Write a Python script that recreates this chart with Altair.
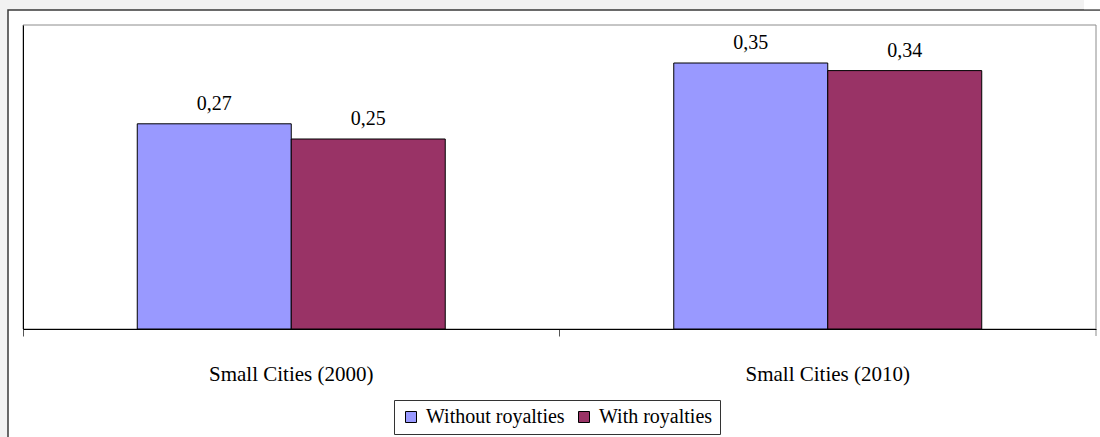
import altair as alt
import pandas as pd

# Category groups, series and values
categories = ["Small Cities (2000)", "Small Cities (2010)"]
series = ["Without royalties", "With royalties"]
without_royalties = [0.27, 0.35]
with_royalties = [0.25, 0.34]
colors = ["#9999FF", "#993366"]

rows = []
for i, cat in enumerate(categories):
    for name, vals in zip(series, [without_royalties, with_royalties]):
        v = vals[i]
        rows.append({"cat": cat, "series": name, "value": v,
                     "label": f"{v:.2f}".replace(".", ",")})
df = pd.DataFrame(rows)

W, H = 1073, 304
SERIF = "Liberation Serif"

one = pd.DataFrame({"k": [0]})

# White sheet with dark border behind the chart
sheet = alt.Chart(one).mark_rect(fill="white", stroke="#3a3a3a", strokeWidth=1.5).encode(
    x=alt.value(-15), x2=alt.value(1110), y=alt.value(-15), y2=alt.value(450)
)
# small white patch at the top-right corner above the sheet
patch = alt.Chart(one).mark_rect(fill="white").encode(
    x=alt.value(1061), x2=alt.value(1090), y=alt.value(-30), y2=alt.value(-15.8)
)
# plot-area frame
frame = alt.Chart(one).mark_rect(fill="transparent", stroke="#8c8c8c", strokeWidth=1).encode(
    x=alt.value(0), x2=alt.value(W), y=alt.value(0), y2=alt.value(H)
)
# closing tick at the right end of the category axis
end_tick = alt.Chart(one).mark_rule(color="#8c8c8c", strokeWidth=1).encode(
    x=alt.value(W), y=alt.value(H), y2=alt.value(H + 7)
)

xenc = alt.X("cat:N", sort=categories, title=None,
             scale=alt.Scale(paddingInner=0, paddingOuter=0),
             axis=alt.Axis(labelAngle=0, bandPosition=0, tickSize=7, tickColor="#555555",
                           domainColor="black", labelFont=SERIF, labelFontSize=21,
                           labelColor="black", labelPadding=27, zindex=2, grid=False))
xoff = alt.XOffset("series:N", sort=series,
                   scale=alt.Scale(paddingInner=0, paddingOuter=0.742))
yenc = alt.Y("value:Q", title=None, scale=alt.Scale(domain=[0, 0.4], nice=False, zero=True),
             axis=alt.Axis(labels=False, ticks=False, grid=False, domainColor="black", zindex=2))

bars = alt.Chart(df).mark_bar(stroke="black", strokeWidth=1, opacity=1).encode(
    x=xenc, xOffset=xoff, y=yenc,
    color=alt.Color("series:N", sort=series,
                    scale=alt.Scale(domain=series, range=colors),
                    legend=alt.Legend(orient="none", legendX=371, legendY=375,
                                      direction="horizontal", title=None,
                                      symbolType="square", symbolSize=121,
                                      symbolStrokeColor="black", symbolStrokeWidth=1,
                                      symbolOpacity=1, labelFont=SERIF, labelFontSize=20,
                                      labelColor="black", labelOffset=5, columnPadding=9,
                                      padding=7, strokeColor="#333333", fillColor="white")),
)

labels = alt.Chart(df).mark_text(font=SERIF, fontSize=20, color="black",
                                 baseline="alphabetic", align="center", dy=-14).encode(
    x=alt.X("cat:N", sort=categories), xOffset=alt.XOffset("series:N", sort=series),
    y="value:Q", text="label:N"
)

chart = alt.layer(sheet, patch, frame, end_tick, bars, labels).properties(
    width=W, height=H,
    padding={"left": 23, "top": 25, "right": 4, "bottom": 108},
    autosize=alt.AutoSizeParams(type="none"),
    background="#f2f2f2",
).configure_view(stroke="transparent")

chart.save("out.html", embed_options={"renderer": "svg", "actions": False})
